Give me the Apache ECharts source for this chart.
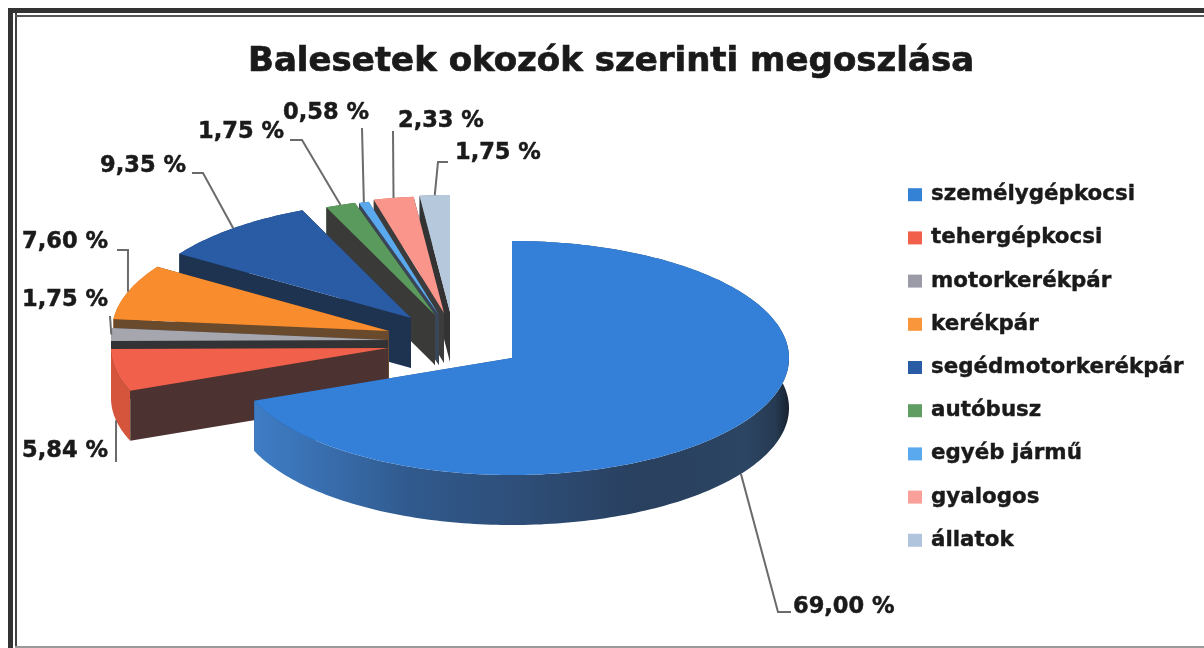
<!DOCTYPE html>
<html><head><meta charset="utf-8">
<style>html,body{margin:0;padding:0;background:#fff}#c{width:1204px;height:648px}</style>
<script src="https://cdn.jsdelivr.net/npm/echarts@6/dist/echarts.min.js"></script>
</head><body><div id="c"></div>
<script>
const titleText = 'Balesetek okozók szerinti megoszlása';
const categories = ['személygépkocsi','tehergépkocsi','motorkerékpár','kerékpár','segédmotorkerékpár','autóbusz','egyéb jármű','gyalogos','állatok'];
const values = [69.00,5.84,1.75,7.60,9.35,1.75,0.58,2.33,1.75];

// styles
const topColors  = ['#3480d8','#f0604a','#a6a6ae','#f98d2e','#2a5ca6','#5a9a5c','#5aa9ee','#f9958a','#b6c8dc'];
const legendColors = ['#3482d6','#f0604a','#9b9ba8','#f9963c','#2a5ca6','#5f9d62','#5aa9ee','#f9a09a','#b0c4de'];
const cutColors  = ['#2a5080','#4c3230','#333336','#6a4a2c','#1e3350','#3a3a38','#3a4658','#3c3c3c','#333333'];
const rimColors  = ['#2e4e78','#d4543c','#77777c','#c8701f','#1f3f70','#3f6e40','#3f78aa','#c46e66','#7f8d9c'];

// layout: ellipse radii, extrusion and where each exploded slice's tip sits
const RX = 277, RY = 117, DEPTH = 50;
const tips = [[512,358],[388,348],[388,340],[389,331],[411,318],[435,315],[439,315],[444,313],[450,312]];
// leader way-points after the arc anchor, and label anchor [x, y, align]
const leaders = [
  {bottom:true, pts:[[778,612],[791,612]], label:[793,607,'left']},
  {bottom:true, pts:[[116,462]], label:[108,451,'right']},
  {bottom:false,pts:[[110,316]], label:[108,300,'right']},
  {bottom:false,pts:[[128,250],[117,250]], label:[108,242,'right']},
  {bottom:false,pts:[[203,173],[192,173]], label:[186,166,'right']},
  {bottom:false,pts:[[302,140],[290,140]], label:[284,132,'right']},
  {bottom:false,pts:[[362,128]], label:[369,113,'right']},
  {bottom:false,pts:[[393,131]], label:[398,121,'left']},
  {bottom:false,pts:[[438,162],[448,162]], label:[455,153,'left']}
];
const drawOrder = [9,8,7,6,5,4,3,2,1]; // z per category: big slice last, then counter-clockwise stack
const total = values.reduce((a,b)=>a+b,0);
function startAngle(i){let s=0;for(let k=0;k<i;k++)s+=values[k];return s/total*Math.PI*2;}

function renderSlice(i){
  return function(params, api){
    const v = api.value(0);
    const a0 = startAngle(i), a1 = a0 + v/total*Math.PI*2;
    const [cx,cy] = tips[i];
    const P = (a,d=0)=>[cx+RX*Math.sin(a), cy-RY*Math.cos(a)+d];
    const n = Math.max(6,Math.ceil((a1-a0)/0.02));
    const arc=[]; for(let k=0;k<=n;k++) arc.push(P(a0+(a1-a0)*k/n));
    const arcLow = arc.map(p=>[p[0],p[1]+DEPTH]).reverse();
    const face = a => [[cx,cy],P(a),P(a,DEPTH),[cx,cy+DEPTH]];
    const poly = (points,fill)=>({type:'polygon',shape:{points},style:{fill,stroke:null}});
    const children=[];
    let rimFill = rimColors[i];
    if(i===0){
      rimFill = new echarts.graphic.LinearGradient(0,0,1,0,[
        {offset:0,color:'#3e7cc4'},{offset:.08,color:'#3b74b8'},{offset:.3,color:'#30598c'},
        {offset:.5,color:'#2e4e78'},{offset:.72,color:'#29405f'},{offset:.92,color:'#2c4563'},
        {offset:.975,color:'#263a52'},{offset:1,color:'#16212e'}]);
    }
    children.push(poly(face(a1),cutColors[i]));
    children.push(poly(arc.concat(arcLow),rimFill));
    children.push(poly(face(a0),cutColors[i]));
    children.push(poly([[cx,cy]].concat(arc),topColors[i]));
    const mid=(a0+a1)/2, L=leaders[i];
    const pts=[P(mid,L.bottom?DEPTH:0)].concat(L.pts);
    children.push({type:'polyline',shape:{points:pts},style:{fill:null,stroke:'#6b6b6b',lineWidth:2}});
    children.push({type:'text',style:{x:L.label[0],y:L.label[1],
      text:v.toFixed(2).replace('.',',')+' %',textAlign:L.label[2],textVerticalAlign:'middle',
      fill:'#1a1a1a',stroke:'#1a1a1a',lineWidth:0.5,font:'bold 22.5px "DejaVu Sans"'}});
    return {type:'group',children};
  };
}

const chart = echarts.init(document.getElementById('c'));
chart.setOption({
  animation:false,
  backgroundColor:'#ffffff',
  title:{text:titleText,left:243,top:40,textStyle:{fontFamily:'"DejaVu Sans"',fontWeight:'bold',fontSize:34,color:'#1a1a1a',textBorderColor:'#1a1a1a',textBorderWidth:0.7}},
  legend:{orient:'vertical',left:908,top:184,padding:0,itemWidth:14,itemHeight:13,itemGap:21.8,icon:'rect',
    data:categories,selectedMode:false,
    textStyle:{fontFamily:'"DejaVu Sans"',fontWeight:'bold',fontSize:21.4,color:'#1a1a1a',padding:[0,0,0,4],textBorderColor:'#1a1a1a',textBorderWidth:0.4}},
  graphic:[
    {type:'rect',shape:{x:8,y:8,width:5,height:640},style:{fill:'#333'}},
    {type:'rect',shape:{x:15,y:8,width:2,height:640},style:{fill:'#444'}},
    {type:'rect',shape:{x:8,y:8,width:1196,height:5},style:{fill:'#333'}},
    {type:'rect',shape:{x:15,y:15,width:1189,height:2},style:{fill:'#555'}},
    {type:'rect',shape:{x:15,y:646,width:1189,height:2},style:{fill:'#999'}}
  ],
  series:categories.map((name,i)=>({
    type:'custom',name,coordinateSystem:'none',z:drawOrder[i],silent:true,
    itemStyle:{color:legendColors[i]},
    renderItem:renderSlice(i),
    data:[[values[i]]]
  }))
});
</script></body></html>
